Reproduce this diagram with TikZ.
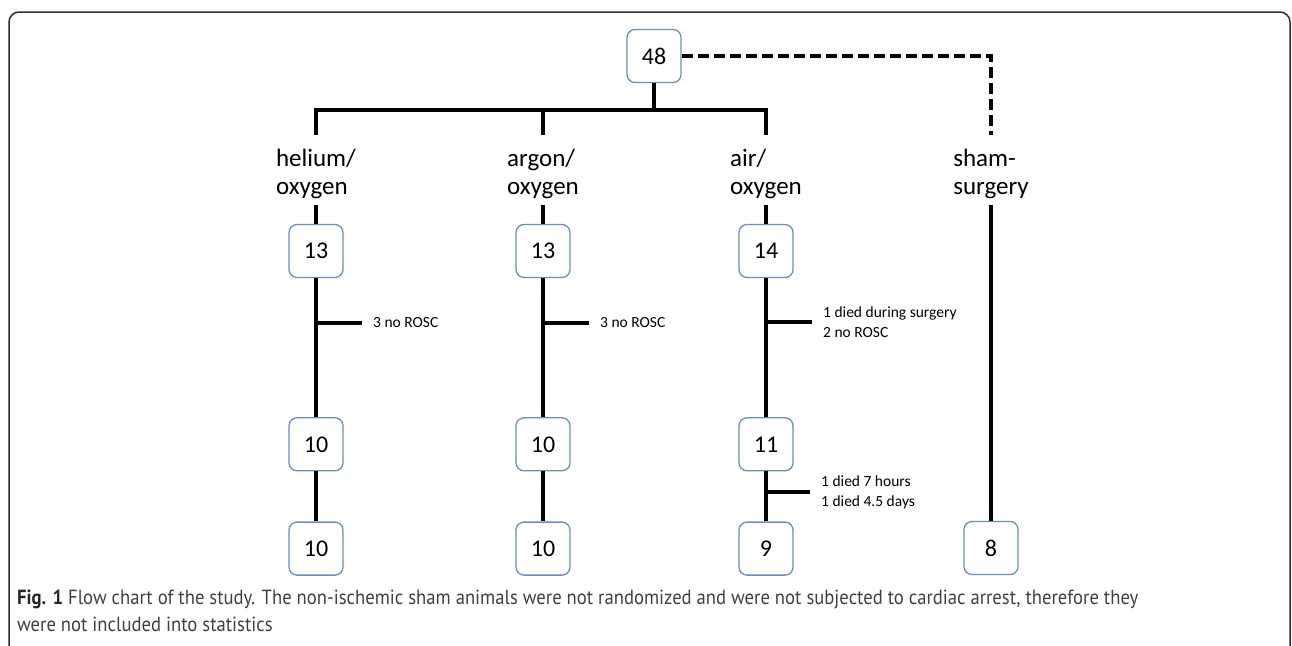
\documentclass[tikz,border=0pt]{standalone}
\usepackage{fontspec}
\setmainfont{Carlito}
\newfontfamily\capfont[FakeStretch=0.91]{PT Sans}
\usetikzlibrary{positioning, calc}
\definecolor{boxblue}{RGB}{104,142,192}
\definecolor{capgray}{RGB}{64,64,64}
\definecolor{framegray}{RGB}{45,45,45}
\tikzset{
    flow_count/.style={
        rectangle,
        rounded corners=8pt,
        draw=boxblue,
        line width=1.3pt,
        minimum width=54pt,
        minimum height=53pt,
        inner sep=0pt,
        font=\fontsize{24}{28}\selectfont
    },
    flow_group/.style={
        align=left,
        inner sep=0pt,
        font=\fontsize{25}{28}\selectfont
    },
    flow_note/.style={
        align=left,
        inner xsep=11pt,
        inner ysep=0pt,
        font=\fontsize{15.5}{20}\selectfont
    },
    flow_line/.style={
        line width=4pt
    },
    flow_dashed_line/.style={
        line width=4pt,
        dash pattern=on 11pt off 5pt
    },
    flow_caption/.style={
        align=left,
        inner sep=0pt,
        text=capgray,
        font=\capfont\fontsize{20.5}{27}\selectfont
    }
}

\begin{document}
\begin{tikzpicture}[x=1pt, y=1pt]
\useasboundingbox (0,0) rectangle (1292,-645);
\clip (0,0) rectangle (1292,-645);

% Frame
\draw[framegray, line width=1.5pt, rounded corners=10pt]
  (9,-700) -- (9,-12) -- (1290,-12) -- (1290,-700);

% Randomization
\node[flow_count] (total) at (654,-56) {48};
\coordinate (split) at (654,-109.5);

% Groups
\node[flow_group] (heliGas) at (316,-174) {helium/\\oxygen};
\node[flow_group] (argonGas) at (543,-174) {argon/\\oxygen};
\node[flow_group] (airGas) at (766,-174) {air/\\oxygen};
\node[flow_group] (shamGas) at (991,-174) {sham-\\surgery};

% Animals per group
\node[flow_count] (heliStart) at (316,-251) {13};
\node[flow_count, below=139pt of heliStart] (heliSurv) {10};
\node[flow_count, below=50pt of heliSurv] (heliEnd) {10};

\node[flow_count] (argonStart) at (543,-251) {13};
\node[flow_count, below=139pt of argonStart] (argonSurv) {10};
\node[flow_count, below=50pt of argonSurv] (argonEnd) {10};

\node[flow_count] (airStart) at (766,-251) {14};
\node[flow_count, below=139pt of airStart] (airSurv) {11};
\node[flow_count, below=50pt of airSurv] (airEnd) {9};

\node[flow_count] (shamEnd) at (991,-548) {8};

% Losses
\coordinate (heliLoss) at (heliStart |- 0,-323);
\node[flow_note, right=46pt of heliLoss] (heliNote) {3 no ROSC};
\coordinate (argonLoss) at (argonStart |- 0,-323);
\node[flow_note, right=46pt of argonLoss] (argonNote) {3 no ROSC};
\coordinate (airLoss) at (airStart |- 0,-322);
\node[flow_note, right=46pt of airLoss] (airNote) {1 died during surgery\\2 no ROSC};
\coordinate (airLate) at (airSurv |- 0,-492);
\node[flow_note, right=44pt of airLate] (airLateNote) {1 died 7 hours\\1 died 4.5 days};

% Edges
\draw[flow_line] (total) -- (split);
\draw[flow_line] ([yshift=14pt]heliGas.north) |- (split) -| ([yshift=14pt]airGas.north);
\draw[flow_line] (argonGas.north |- split) -- ([yshift=14pt]argonGas.north);
\draw[flow_dashed_line] (total.east) -| ([yshift=14pt]shamGas.north);

\draw[flow_line] ([yshift=-6pt]heliGas.south) -- (heliStart);
\draw[flow_line] (heliStart) -- (heliSurv);
\draw[flow_line] (heliSurv) -- (heliEnd);
\draw[flow_line] (heliLoss) -- (heliNote.west);

\draw[flow_line] ([yshift=-6pt]argonGas.south) -- (argonStart);
\draw[flow_line] (argonStart) -- (argonSurv);
\draw[flow_line] (argonSurv) -- (argonEnd);
\draw[flow_line] (argonLoss) -- (argonNote.west);

\draw[flow_line] ([yshift=-6pt]airGas.south) -- (airStart);
\draw[flow_line] (airStart) -- (airSurv);
\draw[flow_line] (airSurv) -- (airEnd);
\draw[flow_line] (airLoss) -- (airNote.west);
\draw[flow_line] (airLate) -- (airLateNote.west);

\draw[flow_line] ([yshift=-6pt]shamGas.south) -- (shamEnd);

% Caption
\node[flow_caption, anchor=north west] (caption) at (17,-590)
  {{\color{black!85}\textbf{Fig. 1}} Flow chart of the study. The non-ischemic sham animals were not randomized and were not subjected to cardiac arrest, therefore they\\
   were not included into statistics};

\end{tikzpicture}
\end{document}
